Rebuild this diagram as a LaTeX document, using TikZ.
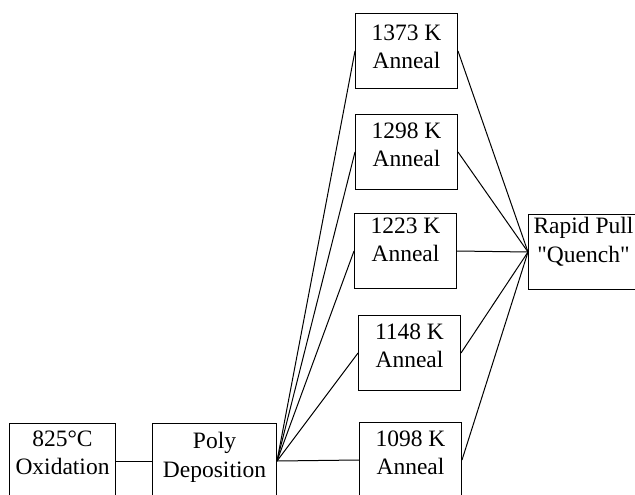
\documentclass[tikz,border=0pt]{standalone}
\usepackage{fontspec}
\setmainfont{Liberation Serif}
\newcommand\stagetext[3]{\parbox[t][75pt][t]{#1}{\centering\vspace*{#2}#3}}
\tikzset{
    stage/.style={draw, anchor=north west, inner sep=0pt, font=\fontsize{23.5}{28.5}\selectfont},
}
\begin{document}
\begin{tikzpicture}[x=1pt, y=-1pt, line width=1pt]
    \useasboundingbox (0,0) rectangle (635,495);
    \node[stage] (oxid) at (9,423) {\stagetext{106pt}{7pt}{825°C\\Oxidation}}; % 氧化
    \node[stage] (poly) at (152,423) {\stagetext{124pt}{9pt}{Poly\\Deposition}}; % 多晶硅淀积
    \node[stage] (quench) at (528,214) {\stagetext{110pt}{3pt}{Rapid Pull\\\textquotedbl Quench\textquotedbl}}; % 快速拉出
    \draw (oxid.east) -- (poly.west);
    \foreach \n/\x/\y/\g/\t in {a/355/13/11/1373, b/355/114/8/1298, c/354/213/4/1223, d/358/315/8/1148, e/359/422/8/1098} {
        \node[stage] (\n) at (\x,\y) {\stagetext{102pt}{\g pt}{\t~K\\Anneal}}; % 退火
        \draw (poly.east) -- (\n.west);
        \draw (\n.east) -- (quench.west);
    }
\end{tikzpicture}
\end{document}
